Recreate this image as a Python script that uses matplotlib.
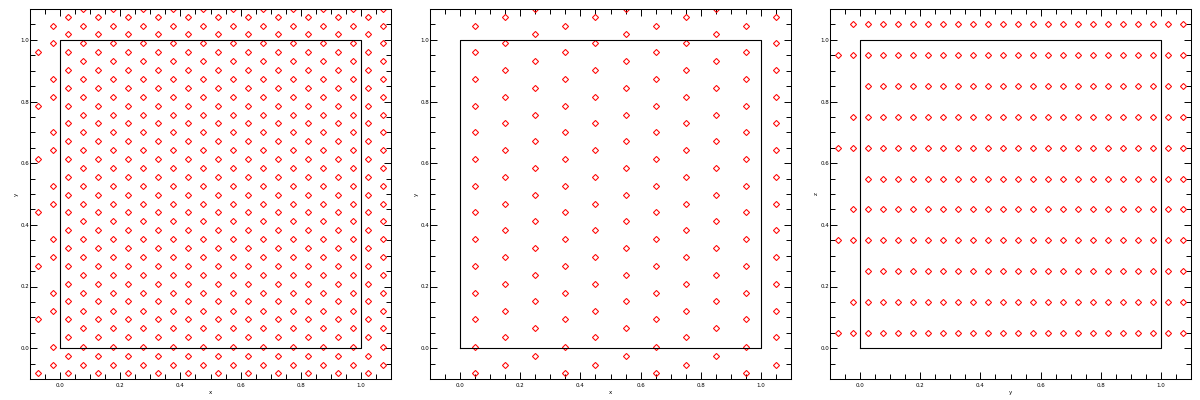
import matplotlib
matplotlib.use('Agg')
import matplotlib.pyplot as plt
from matplotlib.ticker import MultipleLocator, FixedLocator

# panel 1: hexagonal lattice, columns alternate between two row sets
p1_cols = [0.025, 0.075, 0.125, 0.175, 0.225, 0.275, 0.325, 0.375, 0.425, 0.475, 0.525,
           0.575, 0.625, 0.675, 0.725, 0.775, 0.825, 0.875, 0.925, 0.975, 1.025, 1.075]
p1_rows_a = [-0.082, -0.024, 0.035, 0.093, 0.152, 0.207, 0.265, 0.324, 0.382, 0.441, 0.496,
             0.555, 0.613, 0.672, 0.730, 0.786, 0.844, 0.903, 0.961, 1.020, 1.075]
p1_rows_b = [-0.053, 0.005, 0.064, 0.122, 0.178, 0.236, 0.295, 0.353, 0.411, 0.467, 0.525,
             0.584, 0.643, 0.701, 0.757, 0.815, 0.873, 0.932, 0.990, 1.046, 1.101]
p1_edge_x = [-0.075, -0.025]
p1_edge_y = [[0.961, 0.786, 0.613, 0.441, 0.265, 0.093, -0.082],
             [1.046, 0.990, 0.873, 0.815, 0.701, 0.643, 0.526, 0.467, 0.353, 0.295, 0.178, 0.122, 0.005, -0.053]]

# panel 2: columns cycle through three row sets
p2_cols = [0.05, 0.15, 0.25, 0.35, 0.45, 0.55, 0.65, 0.75, 0.85, 0.95, 1.05]
p2_rows_p = [-0.082, 0.005, 0.093, 0.178, 0.265, 0.353, 0.441, 0.526, 0.613, 0.701, 0.786, 0.873, 0.961, 1.046]
p2_rows_q = [-0.053, 0.035, 0.122, 0.207, 0.295, 0.382, 0.467, 0.555, 0.643, 0.730, 0.815, 0.903, 0.990, 1.075]
p2_rows_r = [-0.024, 0.064, 0.152, 0.236, 0.324, 0.412, 0.496, 0.584, 0.672, 0.756, 0.844, 0.932, 1.020, 1.101]

# panel 3: square-ish grid, each row starts at a different x on the left
p3_cols = [-0.075, -0.025, 0.025, 0.075, 0.125, 0.175, 0.225, 0.275, 0.325, 0.375, 0.425, 0.475,
           0.525, 0.575, 0.625, 0.675, 0.725, 0.775, 0.825, 0.875, 0.925, 0.975, 1.025, 1.075]
p3_rows = [1.05, 0.95, 0.85, 0.75, 0.65, 0.55, 0.45, 0.35, 0.25, 0.15, 0.05]
p3_row_start = [-0.025, -0.075, 0.025, -0.025, -0.075, 0.025, -0.025, -0.075, 0.025, -0.025, -0.075]

box_x = [0, 1, 1, 0, 0]
box_y = [0, 0, 1, 1, 0]
xlabels = ['x', 'x', 'y']
ylabels = ['y', 'y', 'z']

def panel1_points():
    xs, ys = [], []
    for i, c in enumerate(p1_cols):
        rows = p1_rows_a if i % 2 == 0 else p1_rows_b
        xs += [c] * len(rows)
        ys += rows
    for c, rows in zip(p1_edge_x, p1_edge_y):
        xs += [c] * len(rows)
        ys += rows
    return xs, ys

def panel2_points():
    xs, ys = [], []
    sets = [p2_rows_p, p2_rows_q, p2_rows_r]
    for i, c in enumerate(p2_cols):
        rows = sets[i % 3]
        xs += [c] * len(rows)
        ys += rows
    return xs, ys

def panel3_points():
    xs, ys = [], []
    for r, s in zip(p3_rows, p3_row_start):
        cs = [c for c in p3_cols if c >= s - 1e-9]
        xs += cs
        ys += [r] * len(cs)
    return xs, ys

def style(ax, xl, yl):
    ax.set_xlim(-0.1, 1.1)
    ax.set_ylim(-0.1, 1.1)
    ax.xaxis.set_major_locator(FixedLocator([0.0, 0.2, 0.4, 0.6, 0.8, 1.0]))
    ax.yaxis.set_major_locator(FixedLocator([0.0, 0.2, 0.4, 0.6, 0.8, 1.0]))
    ax.xaxis.set_minor_locator(MultipleLocator(0.05))
    ax.yaxis.set_minor_locator(MultipleLocator(0.05))
    ax.tick_params(which='both', direction='in', top=True, right=True, width=0.7, color='black')
    ax.tick_params(which='major', length=5.2)
    ax.tick_params(which='minor', length=3.3)
    ax.tick_params(axis='x', labelsize=4, pad=3)
    ax.tick_params(axis='y', labelsize=4, pad=0.8)
    for s in ax.spines.values():
        s.set_linewidth(0.75)
    ax.set_xlabel(xl, fontsize=4, labelpad=1)
    ax.set_ylabel(yl, fontsize=4, labelpad=1)

fig = plt.figure(figsize=(12, 4), dpi=100)
lefts = [30, 430, 830]
pts = [panel1_points(), panel2_points(), panel3_points()]
for i in range(3):
    ax = fig.add_axes([lefts[i] / 1200, 21 / 400, 361 / 1200, 370 / 400])
    xs, ys = pts[i]
    ax.plot(xs, ys, linestyle='none', marker='D', markersize=3.1, markerfacecolor='none',
            markeredgecolor='#ff0000', markeredgewidth=0.75)
    ax.plot(box_x, box_y, color='black', linewidth=0.8)
    style(ax, xlabels[i], ylabels[i])

fig.savefig('out.png', dpi=100)
